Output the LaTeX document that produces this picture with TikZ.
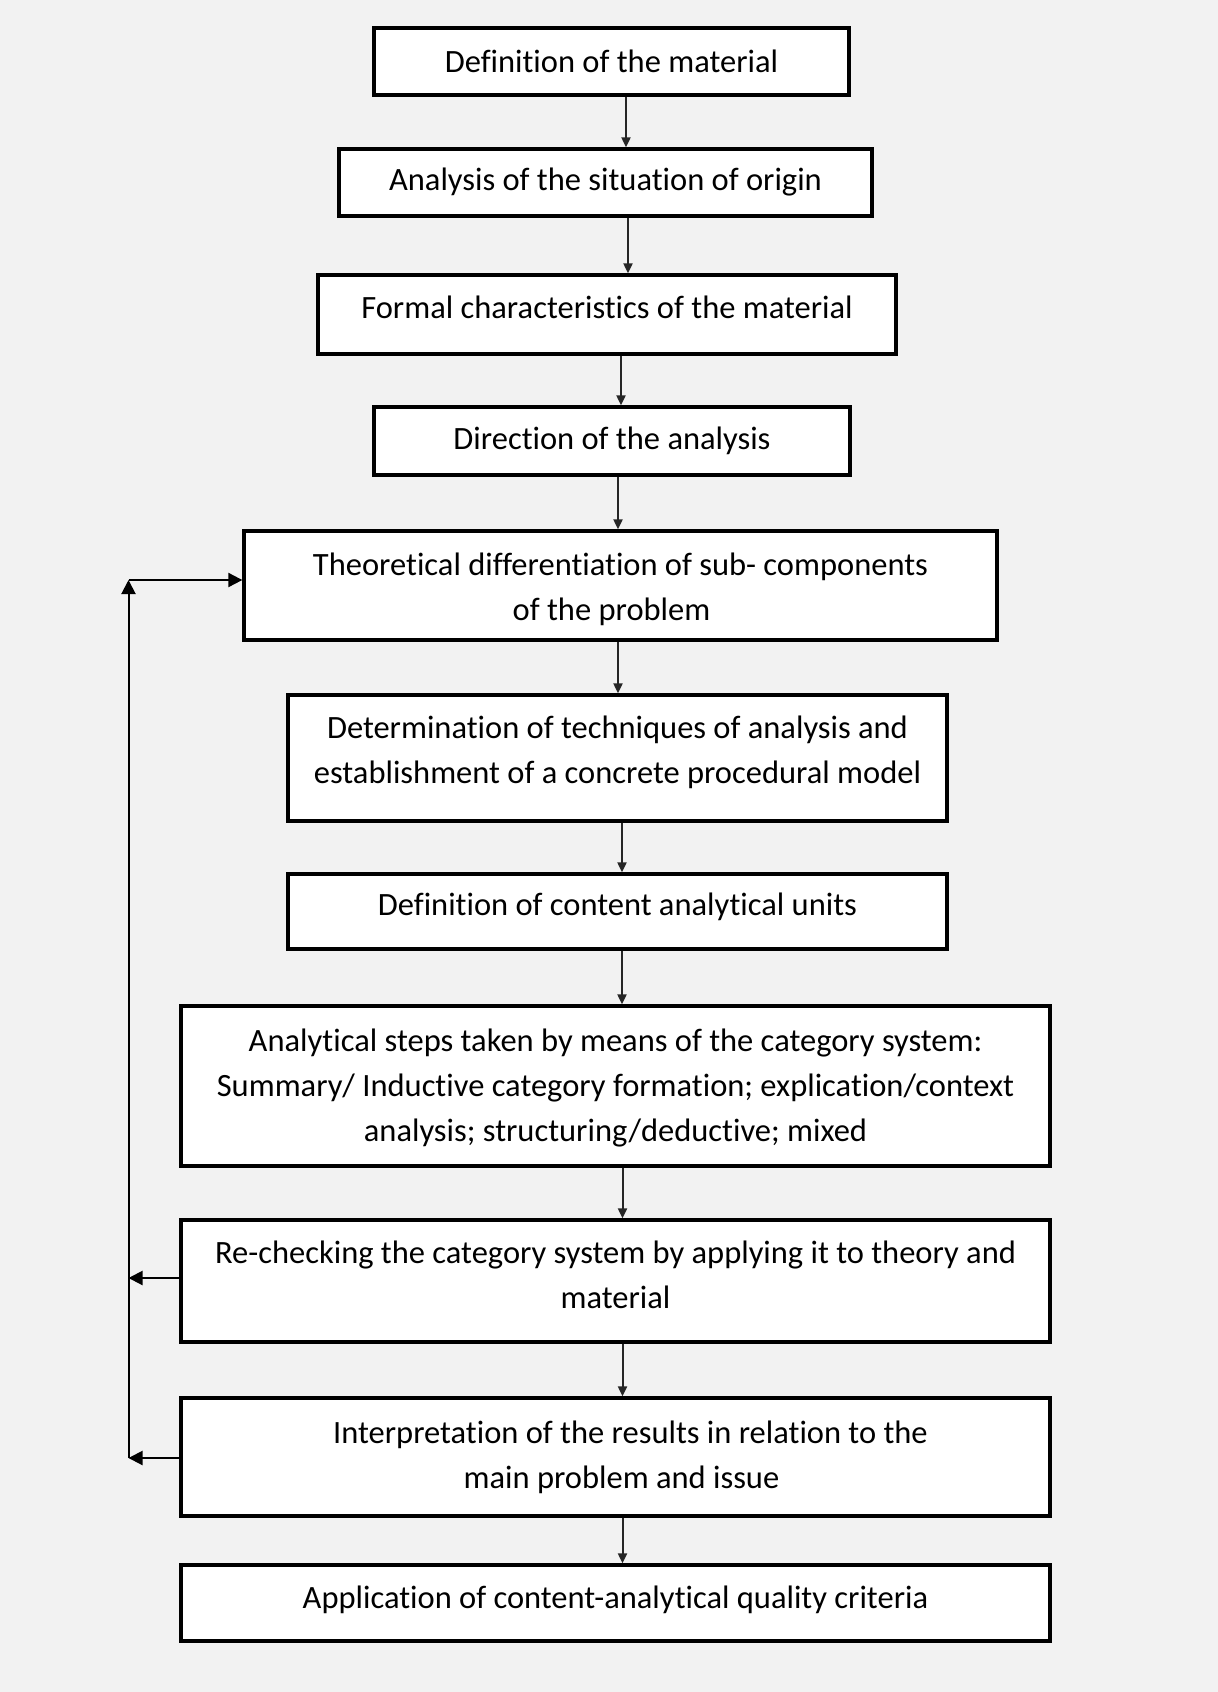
\documentclass[tikz,border=0pt]{standalone}
\usepackage{fontspec}
\setmainfont{Carlito}[Ligatures=NoCommon]
\usetikzlibrary{arrows.meta}
\definecolor{bg}{HTML}{F2F2F2}
\newcommand{\upby}[2]{\raisebox{0pt}[\height][\dimexpr\depth+#1\relax]{#2}}
\begin{document}
\begin{tikzpicture}[x=1pt,y=-1pt,
  box/.style={draw=black, line width=3.3pt, fill=white, inner sep=0pt, align=center,
    font=\fontsize{32.5}{45}\selectfont},
  arr/.style={line width=2pt, draw=black!85, -{Triangle[width=9pt,length=10pt]}},
  fbarr/.style={line width=2pt, draw=black, -{Triangle[width=14pt,length=14pt]}}]
\fill[bg] (0,0) rectangle (1218,1692);
\useasboundingbox (0,0) rectangle (1218,1692);

\node[box, minimum width=475pt, minimum height=67pt] (n1) at (611.5,61.5) {Definition of the material};
\node[box, minimum width=533pt, minimum height=67pt] (n2) at (605.5,182.5) {Analysis of the situation of origin};
\node[box, minimum width=578pt, minimum height=79pt] (n3) at (607,314.5) {\upby{14pt}{Formal characteristics of the material}};
\node[box, minimum width=476pt, minimum height=68pt] (n4) at (612,441) {Direction of the analysis};
\node[box, minimum width=753pt, minimum height=109pt] (n5) at (620.5,585.5) {\upby{-6pt}{\begin{tabular}{@{}c@{}}Theoretical differentiation of sub- components\\of the problem\hspace*{18pt}\end{tabular}}};
\node[box, minimum width=659pt, minimum height=126pt] (n6) at (617.5,758) {\upby{12pt}{\begin{tabular}{@{}c@{}}Determination of techniques of analysis and\\establishment of a concrete procedural model\end{tabular}}};
\node[box, minimum width=659pt, minimum height=75pt] (n7) at (617.5,911.5) {\upby{10pt}{Definition of content analytical units}};
\node[box, minimum width=869pt, minimum height=160pt] (n8) at (615.5,1086) {\upby{-3pt}{\begin{tabular}{@{}c@{}}Analytical steps taken by means of the category system:\\Summary/ Inductive category formation; explication/context\\analysis; structuring/deductive; mixed\end{tabular}}};
\node[box, minimum width=869pt, minimum height=122pt] (n9) at (615.5,1281) {\upby{8pt}{\begin{tabular}{@{}c@{}}Re-checking the category system by applying it to theory and\\material\end{tabular}}};
\node[box, minimum width=869pt, minimum height=118pt] (n10) at (615.5,1457) {\begin{tabular}{@{}c@{}}\hspace*{30pt}Interpretation of the results in relation to the\\\hspace*{12pt}main problem and issue\end{tabular}};
\node[box, minimum width=869pt, minimum height=76pt] (n11) at (615.5,1603) {\upby{6pt}{Application of content-analytical quality criteria}};

\draw[arr] ([xshift=14.5pt]n1.south) -- ([xshift=14.5pt]n1.south |- n2.north);
\draw[arr] ([xshift=22.5pt]n2.south) -- ([xshift=22.5pt]n2.south |- n3.north);
\draw[arr] ([xshift=14pt]n3.south) -- ([xshift=14pt]n3.south |- n4.north);
\draw[arr] ([xshift=6pt]n4.south) -- ([xshift=6pt]n4.south |- n5.north);
\draw[arr] ([xshift=-2.5pt]n5.south) -- ([xshift=-2.5pt]n5.south |- n6.north);
\draw[arr] ([xshift=4.5pt]n6.south) -- ([xshift=4.5pt]n6.south |- n7.north);
\draw[arr] ([xshift=4.5pt]n7.south) -- ([xshift=4.5pt]n7.south |- n8.north);
\draw[arr] ([xshift=7pt]n8.south) -- ([xshift=7pt]n8.south |- n9.north);
\draw[arr] ([xshift=7pt]n9.south) -- ([xshift=7pt]n9.south |- n10.north);
\draw[arr] ([xshift=7pt]n10.south) -- ([xshift=7pt]n10.south |- n11.north);

\coordinate (fbtop) at (128.5,580);
\coordinate (fbbot) at (128.5,1458);
\draw[fbarr] (fbbot) -- (fbtop);
\draw[fbarr] (fbtop) -- (fbtop -| n5.west);
\draw[fbarr] ([yshift=3pt]n9.west) -- ([yshift=3pt]n9.west -| fbtop);
\draw[fbarr] ([yshift=-1pt]n10.west) -- ([yshift=-1pt]n10.west -| fbtop);
\end{tikzpicture}
\end{document}
